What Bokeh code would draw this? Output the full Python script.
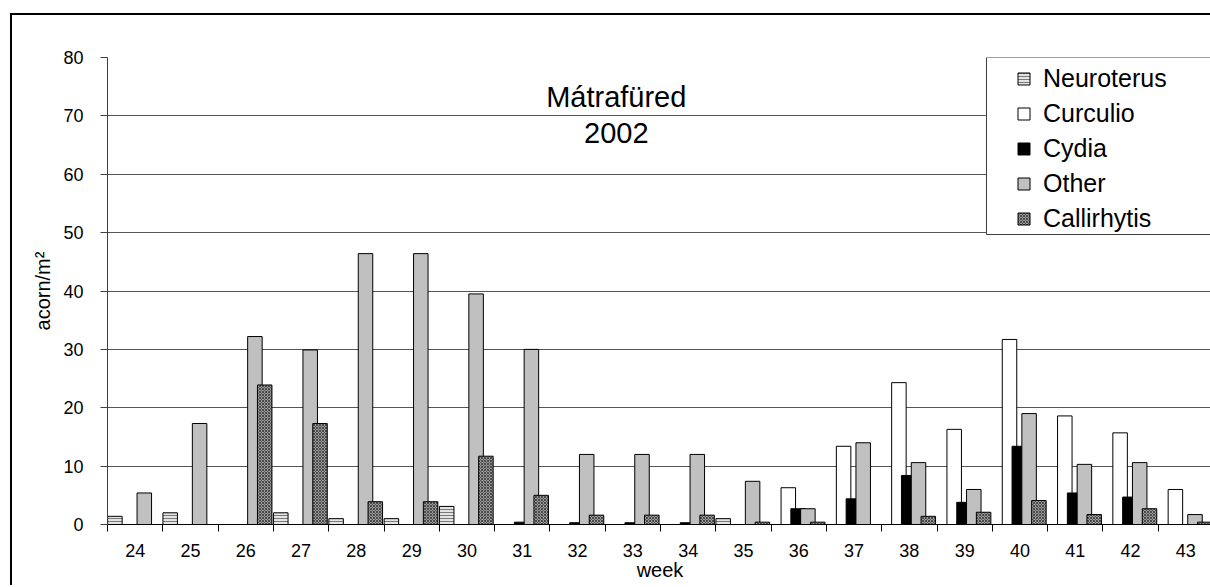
import numpy as np
from bokeh.plotting import figure
from bokeh.models import (Range1d, FixedTicker, Legend, LegendItem, Label,
                          BoxAnnotation, Node)
from bokeh.embed import file_html
from bokeh.resources import INLINE

# ---------------- data ----------------
weeks = list(range(24, 44))
neuroterus = [1.4, 2.0, 0, 2.0, 1.0, 1.0, 3.1, 0, 0, 0, 0, 1.0, 0, 0, 0, 0, 0, 0, 0, 0]
curculio = [0, 0, 0, 0, 0, 0, 0, 0, 0, 0, 0, 0, 6.3, 13.4, 24.3, 16.3, 31.7, 18.6, 15.7, 6.0]
cydia = [0, 0, 0, 0, 0, 0, 0, 0.4, 0.3, 0.3, 0.3, 0, 2.7, 4.4, 8.4, 3.8, 13.4, 5.4, 4.7, 0]
other = [5.4, 17.3, 32.2, 29.9, 46.4, 46.4, 39.5, 30.0, 12.0, 12.0, 12.0, 7.4, 2.7, 14.0,
         10.6, 6.0, 19.0, 10.3, 10.6, 1.7]
callirhytis = [0, 0, 23.9, 17.3, 3.9, 3.9, 11.7, 5.0, 1.6, 1.6, 1.6, 0.4, 0.4, 0, 1.4, 2.1,
               4.1, 1.7, 2.7, 0.4]
series_names = ["Neuroterus", "Curculio", "Cydia", "Other", "Callirhytis"]
y_ticks = [0, 10, 20, 30, 40, 50, 60, 70, 80]
title_text = "Mátrafüred"
year_text = "2002"

# ---------------- style ----------------
FONT = "Liberation Sans"
cat_px = 55.3
frame_w = 1105
step = 9.8 / cat_px
bw = 14.5 / cat_px
off0 = -0.5 + 7.4 / cat_px

styles = [
    dict(fill_color="#e4e4e4", hatch_pattern="horizontal_line", hatch_color="#7a7a7a",
         hatch_scale=3, hatch_weight=1),
    dict(fill_color="white"),
    dict(fill_color="black"),
    dict(fill_color="#c0c0c0"),
    dict(fill_color="#9a9a9a", hatch_pattern="diagonal_cross", hatch_color="#4a4a4a",
         hatch_scale=3, hatch_weight=1),
]

p = figure(width=1200, height=572, output_backend="svg", toolbar_location=None,
           x_range=Range1d(23.5, 23.5 + frame_w / cat_px), y_range=Range1d(0, 80),
           min_border_left=95, min_border_right=0, min_border_top=42, min_border_bottom=63)
p.margin = (15, 0, 0, 12)
p.styles = {"box-shadow": "-2px -2px 0 0 black"}
p.background_fill_color = "white"
p.border_fill_color = "white"
p.outline_line_color = None

renderers = []
for i, (vals, st) in enumerate(zip([neuroterus, curculio, cydia, other, callirhytis], styles)):
    x = np.array(weeks, dtype=float) + off0 + i * step
    r = p.vbar(x=x, top=vals, width=bw, line_color="black", line_width=1, **st)
    renderers.append(r)

# axes
p.xaxis.ticker = FixedTicker(ticks=weeks, minor_ticks=[w - 0.5 for w in weeks] + [weeks[-1] + 0.5])
p.xaxis.major_tick_line_color = None
p.xaxis.major_tick_out = 7
p.xaxis.major_tick_in = 0
p.xaxis.minor_tick_line_color = "black"
p.xaxis.minor_tick_out = 7
p.xaxis.minor_tick_in = 0
p.xaxis.axis_line_color = "black"
p.xaxis.major_label_standoff = 12
p.xaxis.axis_label = "week"
p.xaxis.axis_label_standoff = -1

p.yaxis.ticker = FixedTicker(ticks=y_ticks)
p.yaxis.major_tick_out = 7
p.yaxis.major_tick_in = 0
p.yaxis.minor_tick_line_color = None
p.yaxis.axis_line_color = "#404040"
p.yaxis.major_tick_line_color = "#404040"
p.yaxis.major_label_standoff = 17
p.yaxis.axis_label = "acorn/m²"
p.yaxis.axis_label_standoff = 6

for ax in (p.xaxis[0], p.yaxis[0]):
    ax.major_label_text_font = FONT
    ax.major_label_text_font_size = "18px"
    ax.major_label_text_color = "black"
    ax.axis_label_text_font = FONT
    ax.axis_label_text_font_size = "20px"
    ax.axis_label_text_font_style = "normal"
    ax.axis_label_text_color = "black"

p.xgrid.visible = False
p.ygrid.ticker = FixedTicker(ticks=y_ticks)
p.ygrid.grid_line_color = "#555555"
p.ygrid.grid_line_width = 1

# legend frame
lbox = BoxAnnotation(left=Node(target="frame", symbol="left", offset=879),
                     top=Node(target="frame", symbol="top", offset=0),
                     right=Node(target="frame", symbol="right", offset=40),
                     bottom=Node(target="frame", symbol="top", offset=177),
                     fill_color="white", fill_alpha=1, line_color="#404040", line_width=1,
                     line_alpha=1)
p.add_layout(lbox)

legend = Legend(items=[LegendItem(label=n, renderers=[r]) for n, r in zip(series_names, renderers)],
                location=(909, 291), orientation="vertical",
                border_line_color=None, background_fill_alpha=0, padding=0, spacing=6,
                glyph_width=15, glyph_height=15, label_standoff=12,
                label_text_font=FONT, label_text_font_size="25px", label_text_color="black")
p.add_layout(legend)

# title texts inside plot
p.add_layout(Label(x=32.7, y=73.2, text=title_text, text_align="center",
                   text_baseline="alphabetic", text_font=FONT, text_font_size="29px",
                   text_color="black"))
p.add_layout(Label(x=32.7, y=67.1, text=year_text, text_align="center",
                   text_baseline="alphabetic", text_font=FONT, text_font_size="29px",
                   text_color="black"))

open("out.html", "w").write(file_html(p, INLINE))
